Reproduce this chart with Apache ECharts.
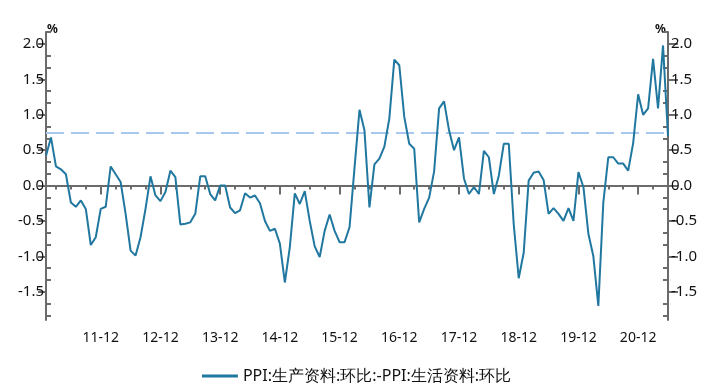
<!DOCTYPE html>
<html>
<head>
<meta charset="utf-8">
<script src="https://cdn.jsdelivr.net/npm/echarts@6/dist/echarts.min.js"></script>
<style>html,body{margin:0;padding:0;background:#fff}#c{width:713px;height:384px}</style>
</head>
<body>
<div id="c"></div>
<script>
// Months Jan 2011 .. Jun 2021
const months = [];
for (let y = 2011; y <= 2021; y++) {
  for (let m = 1; m <= 12; m++) {
    if (y === 2021 && m > 6) break;
    months.push(String(y % 100).padStart(2, '0') + '-' + String(m).padStart(2, '0'));
  }
}
const seriesName = 'PPI:生产资料:环比:-PPI:生活资料:环比';
const values = [
  0.42, 0.68, 0.27, 0.23, 0.16, -0.24, -0.30, -0.21, -0.33, -0.84, -0.73, -0.33,
  -0.30, 0.27, 0.16, 0.05, -0.40, -0.92, -0.99, -0.73, -0.33, 0.13, -0.14, -0.22,
  -0.09, 0.21, 0.12, -0.55, -0.54, -0.52, -0.40, 0.13, 0.13, -0.12, -0.21, 0.00,
  0.00, -0.31, -0.39, -0.35, -0.11, -0.17, -0.14, -0.25, -0.50, -0.64, -0.61, -0.82,
  -1.37, -0.87, -0.11, -0.26, -0.08, -0.50, -0.86, -1.01, -0.64, -0.41, -0.64, -0.80,
  -0.80, -0.59, 0.25, 1.07, 0.78, -0.31, 0.30, 0.38, 0.55, 0.95, 1.78, 1.70,
  0.97, 0.59, 0.52, -0.52, -0.33, -0.17, 0.20, 1.09, 1.19, 0.78, 0.50, 0.68,
  0.10, -0.12, -0.02, -0.12, 0.49, 0.40, -0.12, 0.14, 0.59, 0.59, -0.55, -1.31,
  -0.95, 0.07, 0.18, 0.20, 0.08, -0.40, -0.32, -0.40, -0.50, -0.32, -0.50, 0.19,
  -0.02, -0.68, -1.00, -1.70, -0.24, 0.40, 0.40, 0.31, 0.31, 0.21, 0.60, 1.29,
  1.00, 1.09, 1.79, 1.09, 1.98, 0.70
];
const refLineValue = 0.74;
const yMajorTicks = [-1.5, -1.0, -0.5, 0.0, 0.5, 1.0, 1.5, 2.0];
const yMinorTicks = [];
for (let k = -11; k <= 13; k++) {
  if (k % 3 !== 0) yMinorTicks.push(k / 6);
}
const yMin = -1.9, yMax = 2.17;

const gray = '#6b6b6b';
const lineColor = '#20779f';
const font = 'Noto Sans';
const gridRect = { left: 46, right: 45, top: 32, bottom: 64 };

const chart = echarts.init(document.getElementById('c'), null, { renderer: 'canvas' });
const isDec = (i) => months[i] && months[i].endsWith('-12');
const isQuarter = (i) => { const m = parseInt(months[i].slice(3), 10); return m % 3 === 0; };

chart.setOption({
  animation: false,
  backgroundColor: '#fff',
  grid: [
    Object.assign({ containLabel: false }, gridRect),
    Object.assign({ containLabel: false }, gridRect)
  ],
  legend: {
    top: 363,
    left: 'center',
    icon: 'rect',
    itemWidth: 36,
    itemHeight: 3,
    itemGap: 4,
    textStyle: { fontFamily: font, fontSize: 16, color: '#111' },
    data: [seriesName]
  },
  xAxis: [
    {
      type: 'category', gridIndex: 0, data: months, boundaryGap: false,
      axisLine: { lineStyle: { color: gray, width: 2 } },
      axisTick: { show: true, interval: (i) => isDec(i), length: 9, lineStyle: { color: gray, width: 2 } },
      axisLabel: {
        interval: (i) => isDec(i), margin: 11, color: '#111', fontFamily: font, fontSize: 14,
        formatter: (v) => v.slice(0, 2) + '-' + v.slice(3)
      },
      splitLine: { show: false }
    },
    {
      type: 'category', gridIndex: 1, data: months, boundaryGap: false, position: 'bottom',
      axisLine: { show: false },
      axisTick: { show: true, interval: (i) => isQuarter(i), length: 4, lineStyle: { color: gray, width: 2 } },
      axisLabel: { show: false },
      splitLine: { show: false }
    }
  ],
  yAxis: [
    {
      type: 'value', gridIndex: 0, position: 'left', min: yMin, max: yMax,
      axisLine: { show: true, lineStyle: { color: gray, width: 2 } },
      axisTick: { show: true, customValues: yMajorTicks, length: 8, lineStyle: { color: gray, width: 2 } },
      axisLabel: { customValues: yMajorTicks, margin: 2, color: '#111', fontFamily: font, fontSize: 15,
        formatter: (v) => v.toFixed(1) },
      splitLine: { show: false }
    },
    {
      type: 'value', gridIndex: 0, position: 'right', min: yMin, max: yMax,
      axisLine: { show: true, lineStyle: { color: gray, width: 2 } },
      axisTick: { show: true, customValues: yMajorTicks, length: 10, lineStyle: { color: gray, width: 2 } },
      axisLabel: { customValues: yMajorTicks, margin: 3, color: '#111', fontFamily: font, fontSize: 15,
        formatter: (v) => v.toFixed(1) },
      splitLine: { show: false }
    },
    {
      type: 'value', gridIndex: 1, position: 'left', min: yMin, max: yMax,
      axisLine: { show: false },
      axisTick: { show: true, inside: true, customValues: yMinorTicks, length: 5, lineStyle: { color: gray, width: 2 } },
      axisLabel: { show: false },
      splitLine: { show: false }
    },
    {
      type: 'value', gridIndex: 1, position: 'right', min: yMin, max: yMax,
      axisLine: { show: false },
      axisTick: { show: true, inside: true, customValues: yMinorTicks, length: 5, lineStyle: { color: gray, width: 2 } },
      axisLabel: { show: false },
      splitLine: { show: false }
    }
  ],
  graphic: [
    { type: 'text', left: 47, top: 24, style: { text: '%', fontFamily: font, fontSize: 12, fontWeight: 'bold', fill: '#111' } },
    { type: 'text', left: 655, top: 24, style: { text: '%', fontFamily: font, fontSize: 12, fontWeight: 'bold', fill: '#111' } }
  ],
  series: [
    {
      name: seriesName, type: 'line', xAxisIndex: 0, yAxisIndex: 0,
      data: values, showSymbol: false, symbol: 'none',
      lineStyle: { color: lineColor, width: 2 }, itemStyle: { color: lineColor },
      z: 3,
      markLine: {
        silent: true, symbol: 'none', label: { show: false },
        lineStyle: { color: '#a8c8ef', width: 2, type: [18, 7] },
        data: [{ yAxis: refLineValue }],
        z: 2
      }
    }
  ]
});
</script>
</body>
</html>
